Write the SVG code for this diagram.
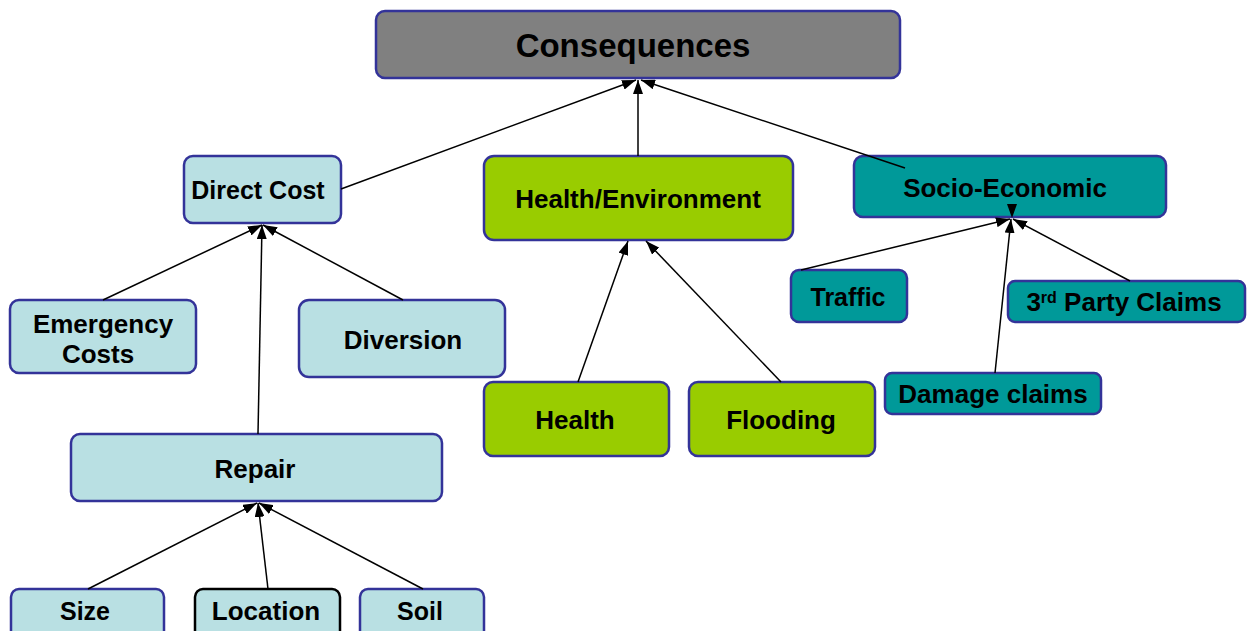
<svg xmlns="http://www.w3.org/2000/svg" width="1247" height="631" viewBox="0 0 1247 631">
<style>
.n{stroke:#333399;stroke-width:2.5}
.g{fill:#808080}
.b{fill:#b9e0e3}
.gr{fill:#99cc00}
.t{fill:#009999}
text{font-family:"Liberation Sans",Arial,sans-serif;font-weight:bold;fill:#000;text-anchor:middle;font-size:26px}
.c line{stroke:#000;stroke-width:1.5;marker-end:url(#ah)}
</style>
<defs>
<marker id="ah" viewBox="0 0 14 10" refX="14" refY="5" markerWidth="14" markerHeight="10" markerUnits="userSpaceOnUse" orient="auto">
<path d="M0,0 L14,5 L0,10 Z" fill="#000"/>
</marker>
</defs>
<rect width="1247" height="631" fill="#fff"/>
<g id="consequences"><rect class="n g" x="376" y="11" width="524" height="67" rx="9"/><text x="633" y="57" style="font-size:33px">Consequences</text></g>
<g id="direct-cost"><rect class="n b" x="184" y="156" width="157" height="67" rx="9"/><text x="258" y="199" style="font-size:25px">Direct Cost</text></g>
<g id="health-env"><rect class="n gr" x="484" y="156" width="309" height="84" rx="10"/><text x="638" y="208">Health/Environment</text></g>
<g id="socio"><rect class="n t" x="854" y="156" width="312" height="61" rx="9"/><text x="1005" y="197">Socio-Economic</text></g>
<g id="emergency"><rect class="n b" x="10" y="300" width="186" height="73" rx="9"/><text x="103" y="333">Emergency</text><text x="98" y="363">Costs</text></g>
<g id="diversion"><rect class="n b" x="299" y="300" width="206" height="77" rx="10"/><text x="403" y="349">Diversion</text></g>
<g id="repair"><rect class="n b" x="71" y="434" width="371" height="67" rx="9"/><text x="255" y="478">Repair</text></g>
<g id="health"><rect class="n gr" x="484" y="382" width="185" height="74" rx="9"/><text x="575" y="429">Health</text></g>
<g id="flooding"><rect class="n gr" x="689" y="382" width="186" height="74" rx="9"/><text x="781" y="429">Flooding</text></g>
<g id="traffic"><rect class="n t" x="791" y="270" width="116" height="52" rx="8"/><text x="848" y="306" style="font-size:25px">Traffic</text></g>
<g id="third-party"><rect class="n t" x="1008" y="281" width="237" height="41" rx="7"/><text x="1124" y="311">3<tspan style="font-size:16px" dy="-8">rd</tspan><tspan dy="8"> Party Claims</tspan></text></g>
<g id="damage"><rect class="n t" x="885" y="373" width="216" height="41" rx="7"/><text x="993" y="403">Damage claims</text></g>
<g id="size"><rect class="n b" x="11" y="589" width="153" height="50" rx="8"/><text x="85" y="620" style="font-size:25px">Size</text></g>
<g id="location"><rect class="b" stroke="#000" stroke-width="2.5" x="195" y="589" width="145" height="50" rx="8"/><text x="266" y="620">Location</text></g>
<g id="soil"><rect class="n b" x="360" y="589" width="124" height="50" rx="8"/><text x="420" y="620" style="font-size:25px">Soil</text></g>
<g class="c">
<line x1="341" y1="189" x2="636" y2="80"/>
<line x1="638" y1="156" x2="638" y2="80"/>
<line x1="905" y1="168" x2="641" y2="80"/>
<line x1="103" y1="300" x2="262" y2="225"/>
<line x1="403" y1="300" x2="263" y2="225"/>
<line x1="258" y1="434" x2="262" y2="225"/>
<line x1="578" y1="382" x2="628" y2="241"/>
<line x1="781" y1="382" x2="646" y2="241"/>
<line x1="801" y1="270" x2="1010" y2="219"/>
<line x1="995" y1="373" x2="1011" y2="219"/>
<line x1="1130" y1="281" x2="1013" y2="219"/>
<line x1="88" y1="589" x2="257" y2="503"/>
<line x1="268" y1="589" x2="258" y2="503"/>
<line x1="423" y1="589" x2="259" y2="503"/>
<path d="M1007,204 L1017,204 L1012,218 Z" fill="#000"/>
</g>
</svg>
